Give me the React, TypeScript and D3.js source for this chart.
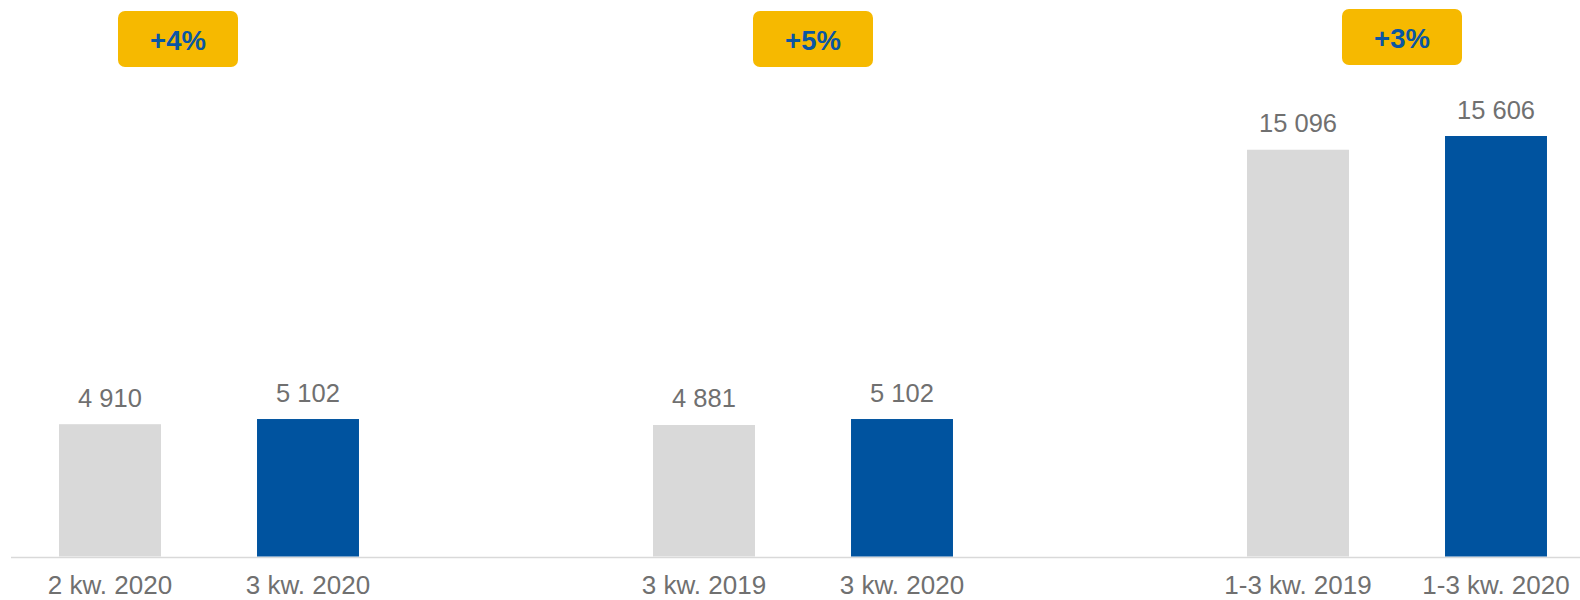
import { useEffect, useRef } from 'react';
import * as d3 from 'd3';

// categories (blank slots are spacers between the three comparisons)
const categories = ['2 kw. 2020', '3 kw. 2020', '3 kw. 2019', '3 kw. 2020 ', '1-3 kw. 2019', '1-3 kw. 2020'];
const values = [4910, 5102, 4881, 5102, 15096, 15606];
const isCurrent = [false, true, false, true, false, true];
const valueLabels = ['4 910', '5 102', '4 881', '5 102', '15 096', '15 606'];
const changeLabels = ['+4%', '+5%', '+3%'];

const W = 1580;
const H = 600;
const GRAY = '#d9d9d9';
const BLUE = '#00539f';
const YELLOW = '#f6b900';
const TEXT = '#707070';
const FONT = 'Liberation Sans, Arial, sans-serif';

// slot order with two spacers
const slots = [categories[0], categories[1], '_a', categories[2], categories[3], '_b', categories[4], categories[5]];
const badgeDx = [68, 109, 104];
const badgeTop = [11, 11, 9];

export default function App() {
  const ref = useRef<SVGSVGElement>(null);

  useEffect(() => {
    if (!ref.current) return;
    const svg = d3.select(ref.current);
    svg.selectAll('*').remove();

    const baseline = 556.5;
    const x = d3.scaleBand().domain(slots).range([11, 1595]).paddingInner(0.485).paddingOuter(0.2425);
    const y = d3.scaleLinear().domain([0, 15606]).range([baseline, 136]);

    const g = svg.append('g');

    g.append('line')
      .attr('x1', 11)
      .attr('x2', W)
      .attr('y1', baseline + 1)
      .attr('y2', baseline + 1)
      .style('stroke', GRAY)
      .style('stroke-width', 1.5);

    g.selectAll('rect.bar')
      .data(values)
      .join('rect')
      .attr('class', 'bar')
      .attr('x', (_, i) => x(categories[i])!)
      .attr('width', x.bandwidth())
      .attr('y', d => y(d))
      .attr('height', d => y(0) - y(d))
      .attr('fill', (_, i) => (isCurrent[i] ? BLUE : GRAY));

    const cx = (i: number) => x(categories[i])! + x.bandwidth() / 2;

    g.selectAll('text.val')
      .data(values)
      .join('text')
      .attr('class', 'val')
      .attr('x', (_, i) => cx(i))
      .attr('y', d => y(d) - 17.5)
      .attr('text-anchor', 'middle')
      .style('font-family', FONT)
      .style('font-size', '25.5px')
      .style('fill', TEXT)
      .text((_, i) => valueLabels[i]);

    g.selectAll('text.cat')
      .data(categories)
      .join('text')
      .attr('class', 'cat')
      .attr('x', (_, i) => cx(i))
      .attr('y', 594)
      .attr('text-anchor', 'middle')
      .style('font-family', FONT)
      .style('font-size', '26px')
      .style('fill', TEXT)
      .text(d => d.trim());

    const badges = g
      .selectAll('g.badge')
      .data(changeLabels)
      .join('g')
      .attr('class', 'badge')
      .attr('transform', (_, k) => `translate(${cx(k * 2) + badgeDx[k]},${badgeTop[k]})`);

    badges
      .append('rect')
      .attr('x', -60)
      .attr('y', 0)
      .attr('width', 120)
      .attr('height', 56)
      .attr('rx', 7)
      .attr('fill', YELLOW);

    badges
      .append('text')
      .attr('x', 0)
      .attr('y', 39)
      .attr('text-anchor', 'middle')
      .style('font-family', FONT)
      .style('font-size', '27.5px')
      .style('font-weight', 'bold')
      .style('fill', '#0a56a3')
      .text(d => d);
  }, []);

  return (
    <div style={{ position: 'fixed', left: 0, top: 0, width: W, height: H, background: '#fff' }}>
      <svg ref={ref} width={W} height={H} style={{ display: 'block' }} />
    </div>
  );
}
